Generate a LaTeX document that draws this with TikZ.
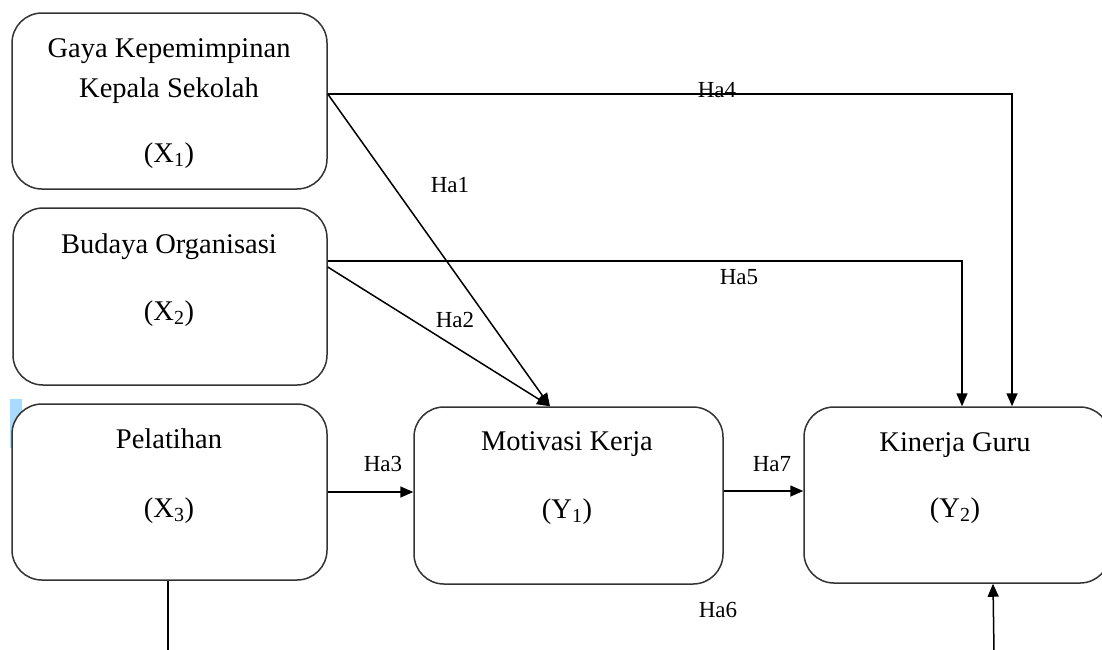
\documentclass[tikz,border=0pt]{standalone}
\usepackage{fontspec}
\setmainfont{Liberation Serif}
\usetikzlibrary{arrows.meta}
\begin{document}
\begin{tikzpicture}[x=1pt,y=-1pt,
  box/.style={draw=black!80, line width=1.5pt, rounded corners=30pt, fill=white, inner sep=0pt},
  boxtext/.style={font=\fontsize{28.5}{34}\selectfont, inner sep=0pt, anchor=base},
  lbl/.style={font=\fontsize{23}{28}\selectfont, inner sep=0pt, anchor=base},
  conn/.style={line width=1.5pt, draw=black},
  arr/.style={conn, -{Triangle[length=13pt,width=11pt]}}]
\useasboundingbox (0,0) rectangle (1102,649);
\fill[white] (0,0) rectangle (1102,649);
% selection highlight
\fill[blue!40!cyan!35] (10,399) rectangle (22,448);
% boxes
\node[box, minimum width=315pt, minimum height=176pt] (x1) at (169.5,101) {};
\node[box, minimum width=314pt, minimum height=177pt] (x2) at (170,296.5) {};
\node[box, minimum width=315pt, minimum height=176pt] (x3) at (169.5,492) {};
\node[box, minimum width=309pt, minimum height=177pt] (y1) at (568.5,495.5) {};
\node[box, minimum width=306pt, minimum height=176pt] (y2) at (957,495) {};
% box texts
\node[boxtext] (t1a) at (169,57) {Gaya Kepemimpinan};
\node[boxtext] (t1b) at (169,97) {Kepala Sekolah};
\node[boxtext] (t1c) at (169,162) {(X\textsubscript{1})};
\node[boxtext] (t2a) at (169,253) {Budaya Organisasi};
\node[boxtext] (t2b) at (169,320) {(X\textsubscript{2})};
\node[boxtext] (t3a) at (169,448) {Pelatihan};
\node[boxtext] (t3b) at (169,517) {(X\textsubscript{3})};
\node[boxtext] (t4a) at (567,450) {Motivasi Kerja};
\node[boxtext] (t4b) at (567,518) {(Y\textsubscript{1})};
\node[boxtext] (t5a) at (955,451) {Kinerja Guru};
\node[boxtext] (t5b) at (955,517) {(Y\textsubscript{2})};
% connectors
\draw[arr] ([yshift=7pt]x1.east) -| ([xshift=55pt]y2.north);
\draw[arr] ([yshift=7pt]x1.east) -- ([xshift=-18.5pt]y1.north);
\draw[arr] ([yshift=35.5pt]x2.east) -| ([xshift=5pt]y2.north);
\draw[arr] ([yshift=29.5pt]x2.east) -- ([xshift=-18.5pt]y1.north);
\draw[arr] (x3.east) -- (x3.east -| y1.west);
\draw[arr] ([yshift=4.5pt]y1.east) -- ([yshift=4.5pt]y1.east -| y2.west);
\coordinate (b1) at (168,652);
\coordinate (b2) at (994,652);
\draw[conn] ([xshift=-1.5pt]x3.south) -- (b1);
\draw[arr] (b2) -- ([xshift=36pt]y2.south);
% labels
\node[lbl] (h1) at (450,192) {Ha1};
\node[lbl] (h2) at (455,327) {Ha2};
\node[lbl] (h3) at (383,471) {Ha3};
\node[lbl] (h4) at (717,97) {Ha4};
\node[lbl] (h5) at (739,284) {Ha5};
\node[lbl] (h6) at (718,617) {Ha6};
\node[lbl] (h7) at (772,471) {Ha7};
\end{tikzpicture}
\end{document}
